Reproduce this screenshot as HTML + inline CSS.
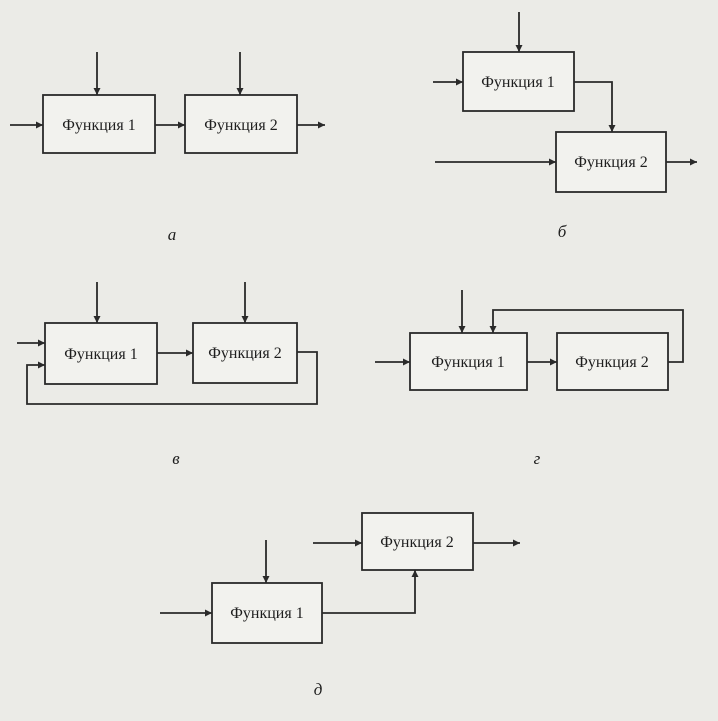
<!DOCTYPE html>
<html><head><meta charset="utf-8"><style>
html,body{margin:0;padding:0;background:#ebebe7;}
svg{display:block}
text{font-family:"Liberation Serif",serif;fill:#1e1e1e}
</style></head><body>
<svg width="718" height="721" viewBox="0 0 718 721" xmlns="http://www.w3.org/2000/svg">
<defs><marker id="a" viewBox="0 0 10 10" refX="10" refY="5" markerWidth="10" markerHeight="7" orient="auto" markerUnits="userSpaceOnUse"><path d="M0,0 L10,5 L0,10 z" fill="#2a2a2a"/></marker></defs>
<rect width="718" height="721" fill="#ebebe7"/>
<g stroke="#2a2a2a" stroke-width="1.8" fill="none">
<rect x="43" y="95" width="112" height="58" fill="#f2f2ee"/>
<rect x="185" y="95" width="112" height="58" fill="#f2f2ee"/>
<line x1="10" y1="125" x2="43" y2="125" marker-end="url(#a)"/>
<line x1="155" y1="125" x2="185" y2="125" marker-end="url(#a)"/>
<line x1="297" y1="125" x2="325" y2="125" marker-end="url(#a)"/>
<line x1="97" y1="52" x2="97" y2="95" marker-end="url(#a)"/>
<line x1="240" y1="52" x2="240" y2="95" marker-end="url(#a)"/>
<rect x="463" y="52" width="111" height="59" fill="#f2f2ee"/>
<rect x="556" y="132" width="110" height="60" fill="#f2f2ee"/>
<line x1="519" y1="12" x2="519" y2="52" marker-end="url(#a)"/>
<line x1="433" y1="82" x2="463" y2="82" marker-end="url(#a)"/>
<polyline points="574,82 612,82 612,132" marker-end="url(#a)"/>
<line x1="435" y1="162" x2="556" y2="162" marker-end="url(#a)"/>
<line x1="666" y1="162" x2="697" y2="162" marker-end="url(#a)"/>
<rect x="45" y="323" width="112" height="61" fill="#f2f2ee"/>
<rect x="193" y="323" width="104" height="60" fill="#f2f2ee"/>
<line x1="97" y1="282" x2="97" y2="323" marker-end="url(#a)"/>
<line x1="245" y1="282" x2="245" y2="323" marker-end="url(#a)"/>
<line x1="17" y1="343" x2="45" y2="343" marker-end="url(#a)"/>
<line x1="157" y1="353" x2="193" y2="353" marker-end="url(#a)"/>
<polyline points="297,352 317,352 317,404 27,404 27,365 45,365" marker-end="url(#a)"/>
<rect x="410" y="333" width="117" height="57" fill="#f2f2ee"/>
<rect x="557" y="333" width="111" height="57" fill="#f2f2ee"/>
<line x1="462" y1="290" x2="462" y2="333" marker-end="url(#a)"/>
<line x1="375" y1="362" x2="410" y2="362" marker-end="url(#a)"/>
<line x1="527" y1="362" x2="557" y2="362" marker-end="url(#a)"/>
<polyline points="668,362 683,362 683,310 493,310 493,333" marker-end="url(#a)"/>
<rect x="362" y="513" width="111" height="57" fill="#f2f2ee"/>
<rect x="212" y="583" width="110" height="60" fill="#f2f2ee"/>
<line x1="266" y1="540" x2="266" y2="583" marker-end="url(#a)"/>
<line x1="160" y1="613" x2="212" y2="613" marker-end="url(#a)"/>
<polyline points="322,613 415,613 415,570" marker-end="url(#a)"/>
<line x1="313" y1="543" x2="362" y2="543" marker-end="url(#a)"/>
<line x1="473" y1="543" x2="520" y2="543" marker-end="url(#a)"/>
</g>
<g font-size="16" text-anchor="middle">
<text x="99" y="130">Функция 1</text>
<text x="241" y="130">Функция 2</text>
<text x="518" y="87">Функция 1</text>
<text x="611" y="167">Функция 2</text>
<text x="101" y="359">Функция 1</text>
<text x="245" y="358">Функция 2</text>
<text x="468" y="367">Функция 1</text>
<text x="612" y="367">Функция 2</text>
<text x="417" y="547">Функция 2</text>
<text x="267" y="618">Функция 1</text>
</g>
<g font-size="17" font-style="italic" text-anchor="middle">
<text x="172" y="240">а</text>
<text x="562" y="237">б</text>
<text x="176" y="464">в</text>
<text x="537" y="464">г</text>
<text x="318" y="695">д</text>
</g>
</svg>
</body></html>
